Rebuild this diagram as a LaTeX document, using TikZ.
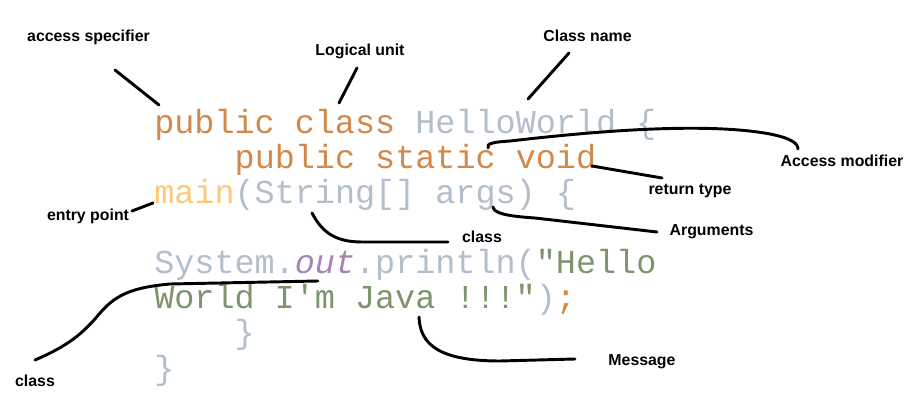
\documentclass[tikz,border=0pt]{standalone}
\usepackage{fontspec}
\setmainfont{Liberation Sans}
\newfontfamily\codefont{Liberation Mono}
\definecolor{kwbase}{HTML}{CC7832}
\definecolor{plainbase}{HTML}{A9B7C6}
\definecolor{fnbase}{HTML}{FFC66D}
\definecolor{fieldbase}{HTML}{9876AA}
\definecolor{strbase}{HTML}{6A8759}
\colorlet{kwc}{kwbase!88!white}
\colorlet{plainc}{plainbase!90!white}
\colorlet{fnc}{fnbase!95!white}
\colorlet{fieldc}{fieldbase!88!white}
\colorlet{strc}{strbase!88!white}
\tikzset{
  codeline/.style={anchor=base west, inner sep=0pt, font=\codefont\fontsize{25.1pt}{30pt}\selectfont},
  lbl/.style={anchor=base, inner sep=0pt, font=\bfseries\fontsize{11.9pt}{14pt}\selectfont},
  conn/.style={draw=black, line width=2.2pt, line cap=round}
}
\begin{document}
\begin{tikzpicture}[x=0.75pt,y=-0.75pt]
\useasboundingbox (0,0) rectangle (917,416);
\fill[white] (0,0) rectangle (917,416);
% code
\node[codeline] (l1) at (154,134) {\textcolor{kwc}{public class }\textcolor{plainc}{HelloWorld \{}};
\node[codeline] (l2) at (234.4,169) {\textcolor{kwc}{public static void}};
\node[codeline] (l3) at (154,204) {\textcolor{fnc}{main}\textcolor{plainc}{(String[] args) \{}};
\node[codeline] (l4) at (154,274) {\textcolor{plainc}{System.}\textcolor{fieldc}{\itshape out}\textcolor{plainc}{.println(}\textcolor{strc}{\char"0022 Hello}};
\node[codeline] (l5) at (154,309) {\textcolor{strc}{World I\char"0027 m Java !!!\char"0022}\textcolor{plainc}{)}\textcolor{kwc}{;}};
\node[codeline] (l6) at (234.4,344) {\textcolor{plainc}{\}}};
\node[codeline] (l7) at (154,379) {\textcolor{plainc}{\}}};
% labels
\node[lbl] (accspec) at (88.5,42) {access specifier};
\node[lbl] (logunit) at (360,56) {Logical unit};
\node[lbl] (clsname) at (587.5,42) {Class name};
\node[lbl] (accmod) at (842,167) {Access modifier};
\node[lbl] (rettype) at (690,195) {return type};
\node[lbl] (args) at (711.5,236) {Arguments};
\node[lbl] (entry) at (88,221) {entry point};
\node[lbl] (clsmid) at (482,243) {class};
\node[lbl] (clsbot) at (35,387) {class};
\node[lbl] (msg) at (642,366) {Message};
% connector end points
\coordinate (a1) at (115,70);   \coordinate (a2) at (159,105);
\coordinate (b1) at (357,68);   \coordinate (b2) at (339,103);
\coordinate (c1) at (569,53);   \coordinate (c2) at (528,99);
\coordinate (d1) at (488,148);  \coordinate (d2) at (510,141); \coordinate (d3) at (770,134); \coordinate (d4) at (798,149);
\coordinate (e1) at (592,166);  \coordinate (e2) at (662,178);
\coordinate (f1) at (493,207);  \coordinate (f2) at (535,218); \coordinate (f3) at (657,232);
\coordinate (g1) at (153,203);  \coordinate (g2) at (132,211);
\coordinate (h1) at (312,213);  \coordinate (h2) at (362,242); \coordinate (h3) at (448,242);
\coordinate (i1) at (35,360);   \coordinate (i2) at (95,319); \coordinate (i3) at (170,284); \coordinate (i4) at (318,281);
\coordinate (j1) at (419,317);  \coordinate (j2) at (500,361); \coordinate (j3) at (575,359);
% connectors
\draw[conn] (a1) -- (a2);
\draw[conn] (b1) -- (b2);
\draw[conn] (c1) -- (c2);
\draw[conn] (d1) .. controls (486,143) and (495,142) .. (d2)
  .. controls (580,133) and (700,121) .. (d3)
  .. controls (790,138) and (798,143) .. (d4);
\draw[conn] (e1) -- (e2);
\draw[conn] (f1) .. controls (494,213) and (505,216) .. (f2) -- (f3);
\draw[conn] (g1) -- (g2);
\draw[conn] (h1) .. controls (322,232) and (335,242) .. (h2) -- (h3);
\draw[conn] (i1) .. controls (70,345) and (82,333) .. (i2)
  .. controls (112,298) and (125,288) .. (i3) -- (i4);
\draw[conn] (j1) .. controls (420,345) and (440,361) .. (j2) -- (j3);
\end{tikzpicture}
\end{document}
